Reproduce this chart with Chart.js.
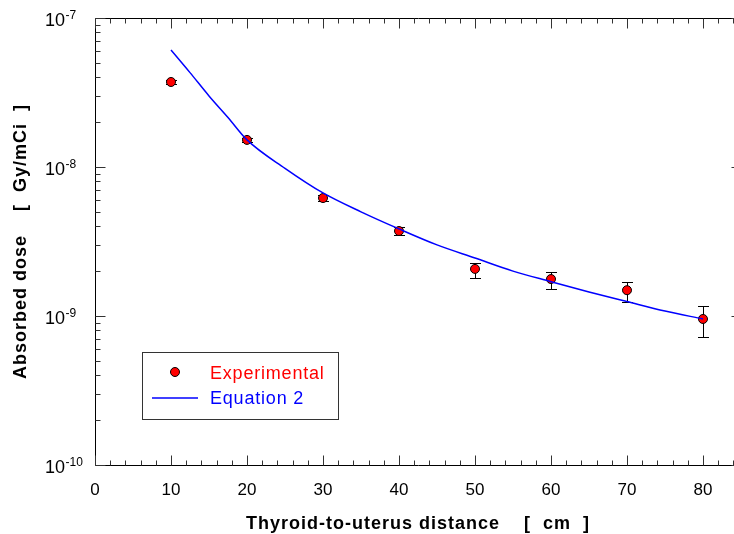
<!DOCTYPE html>
<html>
<head>
<meta charset="utf-8">
<script src="https://cdn.jsdelivr.net/npm/chart.js@4.4.0/dist/chart.umd.min.js"></script>
<style>
  html, body { margin: 0; padding: 0; overflow: hidden; background: #fff; }
</style>
</head>
<body>
<canvas id="Graph" width="760" height="534"></canvas>
<script>
// Measured dose vs distance (cm), with error bar limits
var distances = [10, 20, 30, 40, 50, 60, 70, 80];
var doseMeasured = [3.72e-8, 1.52e-8, 6.19e-9, 3.72e-9, 2.07e-9, 1.77e-9, 1.49e-9, 9.55e-10];
var doseLow = [3.62e-8, 1.48e-8, 5.95e-9, 3.50e-9, 1.79e-9, 1.52e-9, 1.24e-9, 7.19e-10];
var doseHigh = [3.82e-8, 1.56e-8, 6.45e-9, 3.96e-9, 2.26e-9, 1.98e-9, 1.70e-9, 1.17e-9];

// Equation 2 curve
var curveDistances = [10, 12.5, 15, 17.5, 20, 25, 30, 35, 40, 45, 50, 55, 60, 65, 70, 75, 80];
var curveDose = [6.1e-8, 4.3e-8, 3.0e-8, 2.15e-8, 1.52e-8, 9.8e-9, 6.7e-9, 5.0e-9, 3.84e-9, 3.0e-9, 2.45e-9, 2.0e-9, 1.70e-9, 1.45e-9, 1.25e-9, 1.08e-9, 9.55e-10];

// Tick labels
var xTicks = [0, 10, 20, 30, 40, 50, 60, 70, 80];
var xTickLabels = ['0', '10', '20', '30', '40', '50', '60', '70', '80'];
var yTicks = [1e-10, 1e-9, 1e-8, 1e-7];
var yTickExponents = ['-10', '-9', '-8', '-7'];

var FONT = '"Liberation Sans", Arial, sans-serif';

function line(ctx, x1, y1, x2, y2) {
  ctx.beginPath();
  ctx.moveTo(x1, y1);
  ctx.lineTo(x2, y2);
  ctx.stroke();
}

// error bars under the markers
var errorBars = {
  id: 'errorBars',
  beforeDatasetsDraw: function(chart) {
    var ctx = chart.ctx, xs = chart.scales.x, ys = chart.scales.y;
    ctx.save();
    ctx.strokeStyle = '#000';
    ctx.lineWidth = 1;
    for (var i = 0; i < distances.length; i++) {
      var x = Math.round(xs.getPixelForValue(distances[i])) + 0.5;
      var yTop = Math.round(ys.getPixelForValue(doseHigh[i])) + 0.5;
      var yBot = Math.round(ys.getPixelForValue(doseLow[i])) + 0.5;
      line(ctx, x, yTop, x, yBot);
      line(ctx, x - 5.5, yTop, x + 5.5, yTop);
      line(ctx, x - 5.5, yBot, x + 5.5, yBot);
    }
    ctx.restore();
  }
};

// axes frame, inward ticks, labels, titles and legend
var frame = {
  id: 'frame',
  afterDraw: function(chart) {
    var ctx = chart.ctx, a = chart.chartArea;
    var xs = chart.scales.x, ys = chart.scales.y;
    ctx.save();
    ctx.strokeStyle = '#000';
    ctx.lineWidth = 1;
    var L = Math.round(a.left) + 0.5, R = Math.round(a.right) + 0.5;
    var T = Math.round(a.top) + 0.5, B = Math.round(a.bottom) + 0.5;
    line(ctx, L, T, R, T);
    line(ctx, L, B, R, B);
    line(ctx, L, T, L, B);
    line(ctx, R, T, R, B);

    ctx.strokeStyle = '#333';
    for (var v = 0; v <= xs.max; v += 2) {
      var x = Math.round(xs.getPixelForValue(v)) + 0.5;
      var len = (v % 10 === 0) ? 10 : 5;
      line(ctx, x, B, x, B - len);
      line(ctx, x, T, x, T + len);
    }
    for (var d = -10; d <= -7; d++) {
      for (var m = 1; m <= 9; m++) {
        if (d === -7 && m > 1) break;
        var y = Math.round(ys.getPixelForValue(m * Math.pow(10, d))) + 0.5;
        var ln = (m === 1) ? 10 : 5;
        line(ctx, L, y, L + ln, y);
        line(ctx, R, y, R - ln, y);
      }
    }

    // tick labels
    ctx.fillStyle = '#000';
    ctx.textBaseline = 'alphabetic';
    ctx.font = '17px ' + FONT;
    ctx.textAlign = 'center';
    for (var i = 0; i < xTicks.length; i++) {
      ctx.fillText(xTickLabels[i], xs.getPixelForValue(xTicks[i]), a.bottom + 30);
    }
    ctx.textAlign = 'left';
    for (var j = 0; j < yTicks.length; j++) {
      var py = ys.getPixelForValue(yTicks[j]);
      ctx.font = '18px ' + FONT;
      ctx.fillText('10', 45, py + 8);
      var w = ctx.measureText('10').width;
      ctx.font = '12px ' + FONT;
      ctx.fillText(yTickExponents[j], 45 + w + 0.5, py + 0.5);
    }

    // axis titles
    ctx.font = 'bold 18px ' + FONT;
    if ('letterSpacing' in ctx) ctx.letterSpacing = '1px';
    ctx.textAlign = 'center';
    ctx.fillText('Thyroid-to-uterus distance    [  cm  ]', (a.left + a.right) / 2, 529);
    ctx.save();
    ctx.translate(26, (a.top + a.bottom) / 2);
    ctx.rotate(-Math.PI / 2);
    ctx.fillText('Absorbed dose    [  Gy/mCi  ]', 0, 0);
    ctx.restore();

    // legend
    ctx.strokeStyle = '#333';
    ctx.strokeRect(142.5, 352.5, 196, 67);
    ctx.beginPath();
    ctx.arc(175, 372, 4.5, 0, Math.PI * 2);
    ctx.fillStyle = '#ff0000';
    ctx.fill();
    ctx.strokeStyle = '#000';
    ctx.stroke();
    ctx.strokeStyle = '#0000ff';
    ctx.lineWidth = 1.5;
    line(ctx, 152, 398, 198, 398);
    ctx.font = '18px ' + FONT;
    if ('letterSpacing' in ctx) ctx.letterSpacing = '0.8px';
    ctx.textAlign = 'left';
    ctx.fillStyle = '#ff0000';
    ctx.fillText(chart.data.datasets[1].label, 210, 379);
    ctx.fillStyle = '#0000ff';
    ctx.fillText(chart.data.datasets[0].label, 210, 404);
    ctx.restore();
  }
};

var measuredPoints = distances.map(function(d, i) { return { x: d, y: doseMeasured[i] }; });
var curvePoints = curveDistances.map(function(d, i) { return { x: d, y: curveDose[i] }; });

var chart = new Chart(document.getElementById('Graph').getContext('2d'), {
  type: 'scatter',
  data: {
    datasets: [{
      label: 'Equation 2',
      data: curvePoints,
      showLine: true,
      borderColor: '#0000ff',
      borderWidth: 1.5,
      pointRadius: 0,
      fill: false,
      cubicInterpolationMode: 'monotone',
      order: 0
    }, {
      label: 'Experimental',
      data: measuredPoints,
      backgroundColor: '#ff0000',
      borderColor: '#000',
      borderWidth: 1,
      pointRadius: 4.5,
      order: 1
    }]
  },
  options: {
    responsive: false,
    animation: false,
    layout: { padding: { top: 18, right: 19, left: 0, bottom: 0 } },
    plugins: { legend: { display: false }, tooltip: { enabled: false } },
    scales: {
      x: {
        type: 'linear', min: 0, max: 85,
        grid: { display: false }, border: { display: false },
        ticks: { display: false },
        afterFit: function(s) { s.height = 69; }
      },
      y: {
        type: 'logarithmic', min: 1e-10, max: 1e-7,
        grid: { display: false }, border: { display: false },
        ticks: { display: false },
        afterFit: function(s) { s.width = 95; }
      }
    }
  },
  plugins: [errorBars, frame]
});
</script>
</body>
</html>
